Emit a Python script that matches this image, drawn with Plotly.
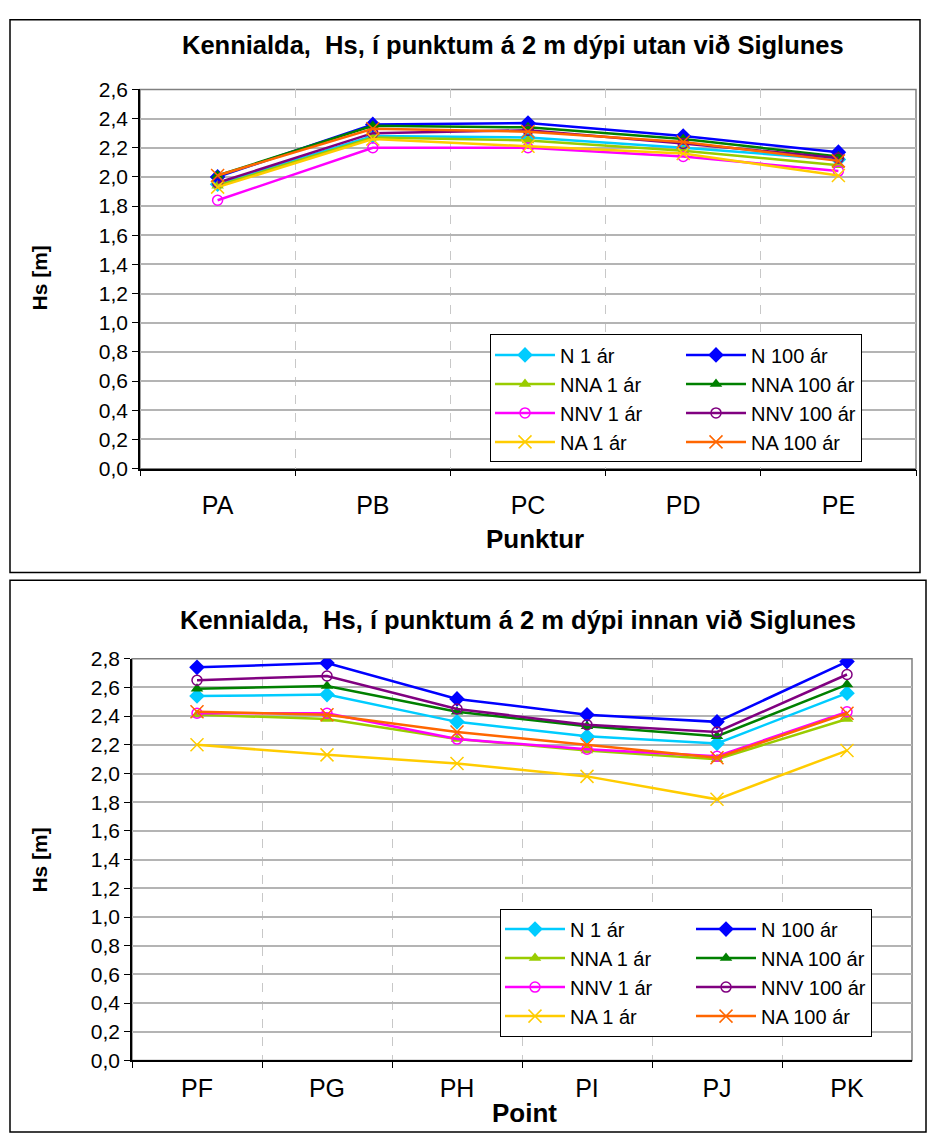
import plotly.graph_objects as go

# ---------------- data ----------------
cats_top = ["PA", "PB", "PC", "PD", "PE"]
cats_bot = ["PF", "PG", "PH", "PI", "PJ", "PK"]

series_names = ["N 1 ár", "N 100 ár", "NNA 1 ár", "NNA 100 ár",
                "NNV 1 ár", "NNV 100 ár", "NA 1 ár", "NA 100 ár"]

# top chart: utan við Siglunes
top_N1     = [1.95, 2.28, 2.27, 2.20, 2.12]
top_N100   = [2.00, 2.36, 2.37, 2.28, 2.17]
top_NNA1   = [1.94, 2.27, 2.25, 2.18, 2.08]
top_NNA100 = [2.01, 2.35, 2.34, 2.26, 2.14]
top_NNV1   = [1.84, 2.20, 2.20, 2.14, 2.04]
top_NNV100 = [1.96, 2.30, 2.32, 2.23, 2.13]
top_NA1    = [1.93, 2.26, 2.21, 2.16, 2.01]
top_NA100  = [2.01, 2.33, 2.31, 2.24, 2.11]

# bottom chart: innan við Siglunes
bot_N1     = [2.54, 2.55, 2.36, 2.26, 2.21, 2.56]
bot_N100   = [2.74, 2.77, 2.52, 2.41, 2.36, 2.78]
bot_NNA1   = [2.41, 2.38, 2.24, 2.16, 2.10, 2.38]
bot_NNA100 = [2.59, 2.61, 2.43, 2.33, 2.26, 2.62]
bot_NNV1   = [2.42, 2.42, 2.24, 2.17, 2.12, 2.43]
bot_NNV100 = [2.65, 2.68, 2.45, 2.34, 2.29, 2.69]
bot_NA1    = [2.20, 2.13, 2.07, 1.98, 1.82, 2.16]
bot_NA100  = [2.43, 2.41, 2.29, 2.20, 2.11, 2.42]

top_values = [top_N1, top_N100, top_NNA1, top_NNA100, top_NNV1, top_NNV100, top_NA1, top_NA100]
bot_values = [bot_N1, bot_N100, bot_NNA1, bot_NNA100, bot_NNV1, bot_NNV100, bot_NA1, bot_NA100]

# ---------------- styles ----------------
colors = ["#00CCFF", "#0000FF", "#99CC00", "#008000",
          "#FF00FF", "#800080", "#FFCC00", "#FF6600"]
symbols = ["diamond", "diamond", "triangle-up", "triangle-up",
           "circle-open", "circle-open", "x-thin", "x-thin"]
sizes = [12, 12, 11, 11, 10, 10, 13, 13]
groups = ["g1", "g100", "g1", "g100", "g1", "g100", "g1", "g100"]
legend_widths = [116, None, 116, None, 116, None, 116, None]

FONT = "Arial, Liberation Sans, sans-serif"
W, H = 928, 1144

fig = go.Figure()


def add_series(cats, values, xa, ya, legend, gp):
    for i, name in enumerate(series_names):
        sym = symbols[i]
        mk = dict(symbol=sym, size=sizes[i], color=colors[i])
        if sym in ("circle-open", "x-thin"):
            mk["line"] = dict(color=colors[i], width=1.5)
        tr = go.Scatter(
            x=cats, y=values[i], name=name, mode="lines+markers",
            line=dict(color=colors[i], width=2.5), marker=mk,
            xaxis=xa, yaxis=ya, legend=legend,
            legendgroup=gp + groups[i],
        )
        if legend_widths[i] is not None:
            tr.legendwidth = legend_widths[i]
        fig.add_trace(tr)


add_series(cats_top, top_values, "x", "y", "legend", "t")
add_series(cats_bot, bot_values, "x2", "y2", "legend2", "b")


def px_x(v):
    return v / W


def px_y(v):
    return 1 - v / H


xaxis_common = dict(
    type="category", showline=True, linecolor="black", linewidth=1.5,
    ticks="outside", tickson="boundaries", ticklen=6, tickcolor="black",
    showgrid=True, gridcolor="#c8c8c8", griddash="dash", gridwidth=1,
    tickfont=dict(family=FONT, size=25, color="black"), zeroline=False,
)
yaxis_common = dict(
    showline=True, linecolor="black", linewidth=1.5,
    ticks="outside", ticklen=6, tickcolor="black",
    showgrid=True, gridcolor="#b4b4b4", gridwidth=1.5,
    dtick=0.2, tick0=0, tickformat=".1f", zeroline=False,
    tickfont=dict(family=FONT, size=21, color="black"),
)

legend_common = dict(
    xanchor="left", yanchor="top",
    orientation="h", traceorder="grouped",
    bgcolor="white", bordercolor="black", borderwidth=1,
    font=dict(family=FONT, size=20, color="black"), itemwidth=60,
)

fig.update_layout(
    width=W, height=H, margin=dict(l=0, r=0, t=0, b=0),
    paper_bgcolor="white", plot_bgcolor="white",
    separators=", ",
    font=dict(family=FONT, color="black"),
    xaxis=dict(xaxis_common, domain=[px_x(140), px_x(916)], anchor="y",
               range=[-0.5, len(cats_top) - 0.5], ticklabelstandoff=14),
    yaxis=dict(yaxis_common, domain=[px_y(466), px_y(79)], anchor="x",
               range=[0, 2.6]),
    xaxis2=dict(xaxis_common, domain=[px_x(132), px_x(912)], anchor="y2",
                range=[-0.5, len(cats_bot) - 0.5], ticklabelstandoff=5),
    yaxis2=dict(yaxis_common, domain=[px_y(1070), px_y(660)], anchor="x2",
                range=[0, 2.8]),
    legend=dict(legend_common, x=px_x(490), y=px_y(329)),
    legend2=dict(legend_common, x=px_x(500), y=px_y(915)),
    showlegend=True,
)

# plot-area borders (gray, Excel style) and chart boxes (black)
shapes = [
    dict(type="rect", xref="x domain", yref="y domain", x0=0, x1=1, y0=0, y1=1,
         line=dict(color="#808080", width=1.5), layer="below"),
    dict(type="rect", xref="x2 domain", yref="y2 domain", x0=0, x1=1, y0=0, y1=1,
         line=dict(color="#808080", width=1.5), layer="below"),
    dict(type="rect", xref="paper", yref="paper", x0=px_x(10), x1=px_x(920),
         y0=px_y(572), y1=px_y(8), line=dict(color="black", width=1.5)),
    dict(type="rect", xref="paper", yref="paper", x0=px_x(10), x1=px_x(926),
         y0=px_y(1143), y1=px_y(580), line=dict(color="black", width=1.5)),
]
fig.update_layout(shapes=shapes)

title_font = dict(family=FONT, size=25.5, color="black")
xt_font = dict(family=FONT, size=26, color="black")
yt_font = dict(family=FONT, size=21, color="black")


def ann(text, x, y, font, angle=0):
    return dict(text=text, x=px_x(x), y=px_y(y), xref="paper", yref="paper",
                xanchor="center", yanchor="middle", textangle=angle,
                showarrow=False, font=font)


annotations = [
    ann("<b>Kennialda,  Hs, í punktum á 2 m dýpi utan við Siglunes</b>", 513, 34, title_font),
    ann("<b>Kennialda,  Hs, í punktum á 2 m dýpi innan við Siglunes</b>", 518, 620, title_font),
    ann("<b>Hs [m]</b>", 40, 272, yt_font, -90),
    ann("<b>Hs [m]</b>", 40, 866, yt_font, -90),
    ann("<b>Punktur</b>", 535, 538, xt_font),
    ann("<b>Point</b>", 524, 1124, xt_font),
]
fig.update_layout(annotations=annotations)

fig.write_html("out.html")
